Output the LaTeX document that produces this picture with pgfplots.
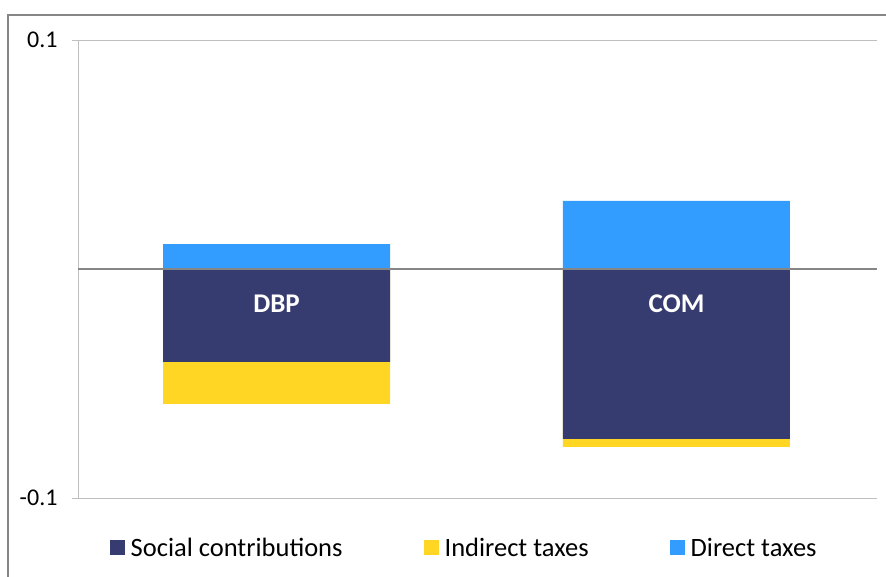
\documentclass[border=0pt]{standalone}
\usepackage{pgfplots}
\pgfplotsset{compat=1.18}
\usepackage{pgfplotstable}
\usepackage{fontspec}
\setmainfont{Carlito}
\definecolor{social}{RGB}{54,59,112}
\definecolor{indirect}{RGB}{255,214,36}
\definecolor{direct}{RGB}{51,156,255}
\definecolor{framegray}{RGB}{134,134,134}
\definecolor{gridgray}{RGB}{191,191,191}
\definecolor{zerogray}{RGB}{134,134,134}
\pgfplotstableread{
x social indirect direct
0 -0.0406 -0.0183 0.0109
1 -0.0742 -0.0035 0.0297
}\data
\begin{document}
\begin{tikzpicture}
\useasboundingbox (0,0) rectangle (886bp,-577bp);
\draw[color=framegray, line width=2bp] (8bp,-600bp) |- (900bp,-15bp);
\begin{axis}[
  at={(78bp,-498bp)}, anchor=south west,
  width=799bp, height=458bp, scale only axis,
  xmin=-0.4963, xmax=1.5013, ymin=-0.1, ymax=0.1,
  axis line style={draw=none},
  xtick=\empty,
  ytick={-0.1,0.1},
  yticklabels={-0.1,0.1},
  ytick pos=left,
  tick align=outside,
  major tick length=6bp,
  tick style={color=gridgray, line width=1bp},
  ymajorgrids,
  grid style={color=gridgray, line width=1bp},
  yticklabel style={font=\fontsize{24bp}{27bp}\selectfont, text=black, xshift=-11bp},
  /pgf/number format/assume math mode=true,
  clip=false,
  legend columns=3,
  legend image code/.code={\fill[#1] (0bp,-7.5bp) rectangle (15bp,7.5bp);},
  legend style={draw=none, fill=none, at={(0.482,-0.109)}, anchor=center,
    font=\fontsize{26.5bp}{30bp}\selectfont,
    nodes={inner sep=0pt, anchor=west},
    /tikz/every odd column/.append style={column sep=6bp},
    /tikz/every even column/.append style={column sep=81bp}},
]
\draw[color=gridgray, line width=1bp] (rel axis cs:0,0) -- (rel axis cs:0,1);
\addplot[ybar, bar width=227bp, bar shift=0pt, fill=indirect, draw=none, forget plot]
  table[x=x, y expr=\thisrow{social}+\thisrow{indirect}] {\data};
\addplot[ybar, bar width=227bp, bar shift=0pt, fill=social, draw=none, forget plot]
  table[x=x, y=social] {\data};
\addplot[ybar, bar width=227bp, bar shift=0pt, fill=direct, draw=none, forget plot]
  table[x=x, y=direct] {\data};
\draw[color=zerogray, line width=1.5bp] (rel axis cs:0,0.5) -- (rel axis cs:1,0.5);
\node[text=white, font=\bfseries\fontsize{27bp}{30bp}\selectfont] at (axis cs:0,-0.0153) {DBP};
\node[text=white, font=\bfseries\fontsize{27bp}{30bp}\selectfont] at (axis cs:1,-0.0150) {COM};
\addlegendimage{fill=social, draw=none}
\addlegendentry{Social contributions}
\addlegendimage{fill=indirect, draw=none}
\addlegendentry{Indirect taxes}
\addlegendimage{fill=direct, draw=none}
\addlegendentry{Direct taxes}
\end{axis}
\end{tikzpicture}
\end{document}
